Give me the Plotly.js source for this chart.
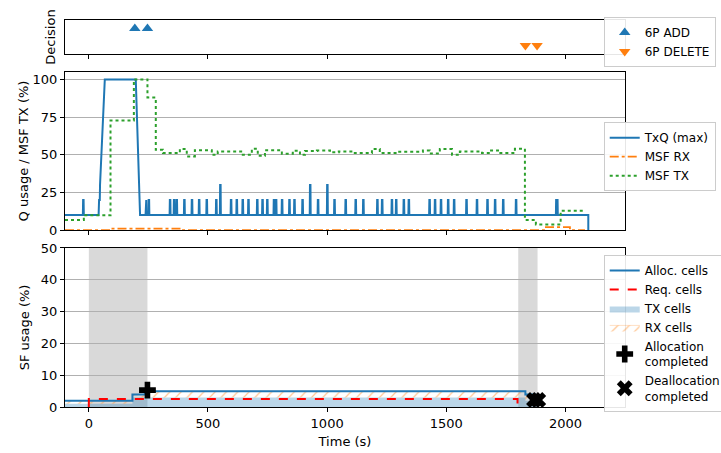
<!DOCTYPE html>
<html>
<head>
<meta charset="utf-8">
<script src="https://cdn.plot.ly/plotly-3.0.1.min.js"></script>
<style>html,body{margin:0;padding:0;background:#fff;}#chart{width:721px;height:453px;}</style>
</head>
<body>
<div id="chart"></div>
<script>
// ---- Decision panel ----
const addTimes = [193, 246];
const addLevel = [1, 1];
const deleteTimes = [1832, 1881];
const deleteLevel = [0, 0];

// ---- Queue panel: TxQ (max) main shape ----
const txqTimes = [-100, 41, 43, 46, 47, 67, 197, 210, 214, 215, 2096, 2096];
const txqValues = [10, 10, 20, 20, 30, 100, 100, 30, 22, 10, 10, 0];
// short spikes on top of the 10% baseline
const spikeTimes = [-24, 239, 251, 340, 357, 368, 400, 432, 462, 494, 534, 551, 596, 620, 645, 669, 706, 728, 748, 776, 785, 810, 841, 862, 896, 928, 961, 1000, 1030, 1077, 1119, 1151, 1210, 1230, 1271, 1289, 1321, 1342, 1429, 1452, 1477, 1507, 1532, 1584, 1628, 1672, 1704, 1738, 1792, 1961];
const spikeValues = [20, 20, 20, 20, 20, 20, 20, 20, 20, 20, 20, 30, 20, 20, 20, 20, 20, 20, 20, 20, 20, 20, 20, 20, 20, 30, 20, 30, 20, 20, 20, 20, 20, 20, 20, 20, 20, 20, 20, 20, 20, 20, 20, 20, 20, 20, 20, 20, 20, 20];
const spikeWidths = [3, 3, 3, 3, 3, 3, 3, 3, 3, 3, 3, 3, 3, 3, 3, 3, 3, 3, 3, 3, 3, 3, 3, 3, 3, 3, 3, 3, 3, 3, 3, 3, 3, 3, 3, 3, 3, 3, 3, 3, 3, 3, 3, 3, 3, 3, 3, 3, 3, 7];

// MSF RX (step)
const rxTimes = [-100, 95, 395, 1914, 2019, 2082];
const rxValues = [0, 1, 0, 2, 0, 0];

// MSF TX (step)
const msfTxTimes = [-100, -21, 91, 189, 246, 281, 311, 382, 411, 445, 516, 541, 646, 684, 709, 739, 810, 856, 886, 907, 957, 1012, 1049, 1116, 1188, 1221, 1293, 1402, 1431, 1473, 1524, 1557, 1650, 1683, 1717, 1788, 1830, 1876, 1980, 2082];
const msfTxValues = [6.7, 9.8, 72.7, 100, 88, 53.3, 51.1, 53.8, 48.9, 53, 50, 52.2, 50, 54, 49.3, 53, 50.7, 52.7, 50, 52.5, 52.9, 51.6, 52.2, 51.1, 53.8, 51.1, 52, 52.9, 50.9, 53.8, 50, 52.2, 51.1, 52.9, 51.1, 54, 6.7, 3.8, 12.8, 12.8];

// ---- SF panel ----
const allocTimes = [-100, 183, 235, 1832, 1872, 1885];
const allocValues = [1.98, 3.96, 4.95, 3.96, 1.98, 1.98];
const reqTimes = [0, 0, 1799, 1799];
const reqValues = [0, 2.5, 2.5, 0];
const cellTimes = [-100, 183, 235, 1832, 1872, 1885];
const txCells = [0.99, 2.97, 2.97, 1.98, 0.99, 0.99];
const rxCells = [0.99, 0.99, 1.98, 1.98, 0.99, 0.99];
const allocDoneTimes = [246];
const allocDoneValues = [5.3];
const deallocDoneTimes = [1868, 1886];
const deallocDoneValues = [2.2, 2.2];
const shadedStart = [0, 1802];
const shadedEnd = [246, 1883];

const xTicks = [0, 500, 1000, 1500, 2000];

// build TxQ polyline: main shape with the spikes inserted on the 10% baseline
let sx = [], sy = [];
let si = 0;
for (let i = 0; i < txqTimes.length; i++) {
  while (si < spikeTimes.length && spikeTimes[si] < txqTimes[i]) {
    const t = spikeTimes[si], v = spikeValues[si], w = spikeWidths[si];
    if (i > 0 && txqValues[i - 1] === 10) { sx.push(t - 1, t, t + w - 1, t + w); sy.push(10, v, v, 10); }
    si++;
  }
  sx.push(txqTimes[i]); sy.push(txqValues[i]);
}

const font = 'DejaVu Sans, sans-serif';
const blue = '#1f77b4', orange = '#ff7f0e', green = '#2ca02c';

const traces = [
  {x: addTimes, y: addLevel, xaxis: 'x', yaxis: 'y', mode: 'markers', name: '6P ADD',
   marker: {symbol: 'triangle-up', size: 10, color: blue}, legend: 'legend'},
  {x: deleteTimes, y: deleteLevel, xaxis: 'x', yaxis: 'y', mode: 'markers', name: '6P DELETE',
   marker: {symbol: 'triangle-down', size: 10, color: orange}, legend: 'legend'},

  {x: sx, y: sy, xaxis: 'x2', yaxis: 'y2', mode: 'lines', name: 'TxQ (max)',
   line: {color: blue, width: 2}, legend: 'legend2'},
  {x: rxTimes, y: rxValues, xaxis: 'x2', yaxis: 'y2', mode: 'lines', name: 'MSF RX',
   line: {color: orange, width: 1.8, dash: 'dashdot', shape: 'hv'}, legend: 'legend2'},
  {x: msfTxTimes, y: msfTxValues, xaxis: 'x2', yaxis: 'y2', mode: 'lines', name: 'MSF TX',
   line: {color: green, width: 2, dash: 'dot', shape: 'hv'}, legend: 'legend2'},

  {x: cellTimes, y: txCells, xaxis: 'x3', yaxis: 'y3', mode: 'lines', name: 'TX cells',
   fill: 'tozeroy', fillcolor: 'rgba(31,119,180,0.3)', line: {width: 0, shape: 'hv'},
   legend: 'legend3', legendrank: 3},
  {x: cellTimes, y: txCells.map((v, i) => v + rxCells[i]), xaxis: 'x3', yaxis: 'y3', mode: 'lines', name: 'RX cells',
   fill: 'tonexty', fillcolor: 'rgba(0,0,0,0)',
   fillpattern: {shape: '/', fgcolor: 'rgba(255,127,14,0.45)', bgcolor: 'rgba(0,0,0,0)', size: 8, solidity: 0.15},
   line: {width: 0.8, color: 'rgba(255,127,14,0.3)', shape: 'hv'}, legend: 'legend3', legendrank: 4},
  {x: allocTimes, y: allocValues, xaxis: 'x3', yaxis: 'y3', mode: 'lines', name: 'Alloc. cells',
   line: {color: blue, width: 2, shape: 'hv'}, legend: 'legend3', legendrank: 1},
  {x: reqTimes, y: reqValues, xaxis: 'x3', yaxis: 'y3', mode: 'lines', name: 'Req. cells',
   line: {color: 'red', width: 2, dash: 'dash'}, legend: 'legend3', legendrank: 2},
  {x: allocDoneTimes, y: allocDoneValues, xaxis: 'x3', yaxis: 'y3', mode: 'markers', name: 'Allocation<br>completed',
   marker: {symbol: 'cross', size: 14, color: 'black'}, legend: 'legend3', legendrank: 5},
  {x: deallocDoneTimes, y: deallocDoneValues, xaxis: 'x3', yaxis: 'y3', mode: 'markers', name: 'Deallocation<br>completed',
   marker: {symbol: 'x', size: 14, color: 'black'}, legend: 'legend3', legendrank: 6}
];

const axBase = {showline: true, mirror: true, linecolor: 'black', linewidth: 1,
  ticks: 'outside', ticklen: 4, tickcolor: 'black', zeroline: false, automargin: false,
  tickfont: {family: font, size: 13, color: 'black'}};
const xBase = Object.assign({}, axBase, {range: [-100, 2250], tickvals: xTicks, showgrid: false});

const shapes = shadedStart.map((s, i) => ({type: 'rect', xref: 'x3', yref: 'y3 domain',
  x0: s, x1: shadedEnd[i], y0: 0, y1: 1, fillcolor: '#d9d9d9', line: {width: 0}, layer: 'below'}));

const legBase = {bgcolor: 'rgba(255,255,255,0.9)', bordercolor: '#cccccc', borderwidth: 1,
  font: {family: font, size: 12, color: 'black'}, xanchor: 'left', yanchor: 'top', tracegroupgap: 0};

const layout = {
  width: 721, height: 453,
  margin: {l: 65, r: 96, t: 20, b: 46, autoexpand: false},
  paper_bgcolor: 'white', plot_bgcolor: 'white',
  font: {family: font, size: 13, color: 'black'},
  showlegend: true,
  xaxis: Object.assign({}, xBase, {anchor: 'y', showticklabels: false, matches: 'x3'}),
  yaxis: Object.assign({}, axBase, {domain: [0.912, 1], range: [-0.5, 1.5], showticklabels: false, ticks: '', showgrid: false,
    title: {text: 'Decision', font: {family: font, size: 13}, standoff: 5}}),
  xaxis2: Object.assign({}, xBase, {anchor: 'y2', showticklabels: false, matches: 'x3'}),
  yaxis2: Object.assign({}, axBase, {domain: [0.457, 0.866], range: [0, 105], tickvals: [0, 25, 50, 75, 100],
    showgrid: true, gridcolor: '#b0b0b0', gridwidth: 1,
    title: {text: 'Q usage / MSF TX (%)', font: {family: font, size: 13}}}),
  xaxis3: Object.assign({}, xBase, {anchor: 'y3',
    title: {text: 'Time (s)', font: {family: font, size: 13}, standoff: 7}}),
  yaxis3: Object.assign({}, axBase, {domain: [0, 0.411], range: [0, 50], tickvals: [0, 10, 20, 30, 40, 50],
    showgrid: true, gridcolor: '#b0b0b0', gridwidth: 1,
    title: {text: 'SF usage (%)', font: {family: font, size: 13}}}),
  legend: Object.assign({}, legBase, {x: 0.962, y: 1.008}),
  legend2: Object.assign({}, legBase, {x: 0.962, y: 0.736}),
  legend3: Object.assign({}, legBase, {x: 0.962, y: 0.393, traceorder: 'normal'}),
  shapes: shapes
};

Plotly.newPlot('chart', traces, layout, {displayModeBar: false, staticPlot: true});
</script>
</body>
</html>
